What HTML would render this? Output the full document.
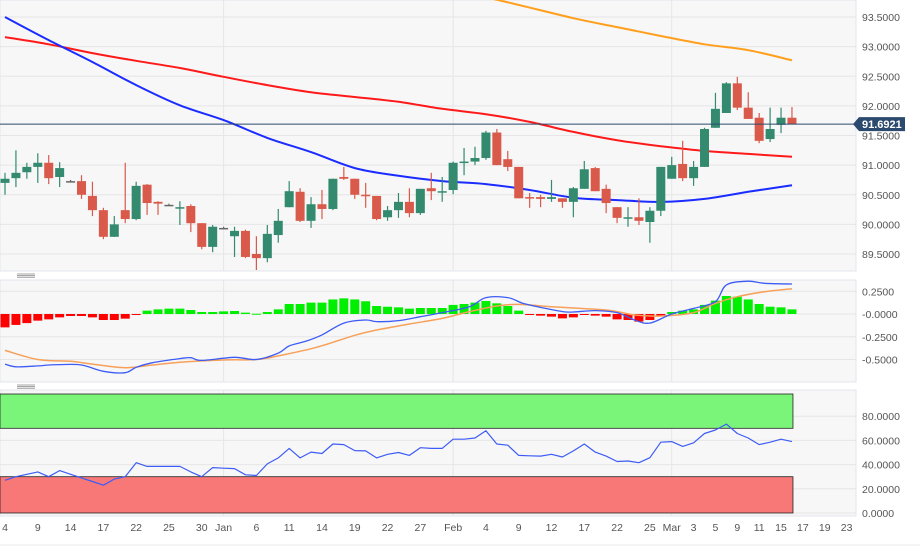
<!DOCTYPE html>
<html><head><meta charset="utf-8"><style>
html,body{margin:0;padding:0;background:#fff;}
svg{display:block;font-family:"Liberation Sans",sans-serif;}
</style></head><body>
<svg id="c" width="920" height="551" viewBox="0 0 920 551" xmlns="http://www.w3.org/2000/svg"></svg>
<script>
// ---- data ----
const opens  = [90.70,90.78,90.88,90.97,91.04,90.80,90.73,90.73,90.48,90.24,89.79,90.24,90.09,90.67,90.38,90.33,90.27,90.31,90.02,89.62,89.94,89.80,89.89,89.50,89.43,89.82,90.29,90.55,90.06,90.34,90.26,90.80,90.77,90.50,90.48,90.12,90.24,90.38,90.19,90.61,90.55,90.58,91.04,91.06,91.12,91.55,91.10,90.97,90.46,90.46,90.43,90.44,90.38,90.60,90.95,90.60,90.29,90.11,90.12,90.04,90.23,90.77,91.02,90.78,90.97,91.63,91.88,92.38,91.97,91.80,91.44,91.68,91.80];
const highs  = [90.87,91.25,91.04,91.20,91.17,91.05,90.75,90.83,90.72,90.28,90.14,91.04,90.72,90.68,90.39,90.35,90.39,90.34,90.02,89.99,89.96,89.96,89.91,89.80,89.99,90.26,90.73,90.61,90.46,90.58,90.77,90.97,90.77,90.70,90.48,90.31,90.53,90.61,90.60,90.87,90.80,91.06,91.29,91.31,91.58,91.61,91.24,90.97,90.53,90.50,90.75,90.44,90.63,91.07,90.97,90.67,90.29,90.29,90.44,90.29,90.97,91.14,91.41,91.07,91.63,92.22,92.40,92.49,92.23,91.88,91.97,91.97,91.98];
const lows   = [90.50,90.63,90.77,90.70,90.68,90.63,90.71,90.43,90.14,89.75,89.79,90.02,90.07,90.16,90.16,90.31,89.99,89.87,89.58,89.53,89.92,89.45,89.43,89.23,89.36,89.69,90.29,90.04,89.94,90.09,90.24,90.75,90.43,90.28,90.07,90.06,90.11,90.12,90.16,90.41,90.38,90.51,90.83,91.00,91.09,91.00,90.90,90.44,90.28,90.29,90.38,90.28,90.12,90.60,90.56,90.19,90.02,89.96,89.99,89.69,90.14,90.77,90.73,90.65,90.97,91.63,91.88,91.93,91.78,91.37,91.39,91.54,91.69];
const closes = [90.77,90.87,90.97,91.04,90.78,90.95,90.73,90.50,90.24,89.79,90.00,90.09,90.65,90.36,90.35,90.33,90.29,90.02,89.62,89.96,89.94,89.89,89.45,89.43,89.84,90.06,90.56,90.06,90.34,90.26,90.77,90.77,90.50,90.48,90.09,90.24,90.38,90.19,90.60,90.56,90.56,91.04,91.06,91.12,91.55,91.00,90.97,90.44,90.44,90.43,90.46,90.38,90.61,90.93,90.56,90.36,90.11,90.12,90.06,90.23,90.97,91.00,90.78,90.97,91.61,91.95,92.38,91.97,91.78,91.41,91.61,91.80,91.69];
const maIdx = [0,4,8,12,16,20,24,28,32,36,40,44,48,52,56,60,64,68,72];
const maBlue = [93.50,93.11,92.74,92.35,92.01,91.76,91.46,91.22,90.95,90.82,90.73,90.68,90.58,90.45,90.41,90.38,90.43,90.55,90.66];
const maRed  = [93.16,93.04,92.89,92.76,92.64,92.49,92.35,92.23,92.15,92.07,91.95,91.86,91.73,91.56,91.42,91.32,91.24,91.19,91.14];
const maOrIdx = [40,45,52,56,60,64,68,72];
const maOrange = [93.96,93.79,93.48,93.33,93.18,93.04,92.94,92.77];
const lastPrice = 91.6921;
const priceTicks = [93.5,93.0,92.5,92.0,91.5,91.0,90.5,90.0,89.5];
const hist = [-0.147,-0.12,-0.10,-0.073,-0.059,-0.037,-0.022,-0.022,-0.037,-0.066,-0.066,-0.051,-0.003,0.037,0.051,0.059,0.059,0.044,0.022,0.022,0.029,0.033,0.015,0.003,0.022,0.051,0.11,0.11,0.125,0.125,0.16,0.172,0.16,0.14,0.088,0.08,0.073,0.059,0.066,0.066,0.066,0.10,0.11,0.125,0.143,0.117,0.088,0.037,-0.005,-0.018,-0.029,-0.048,-0.037,-0.011,-0.018,-0.029,-0.059,-0.066,-0.084,-0.066,-0.022,0.022,0.037,0.051,0.10,0.147,0.198,0.19,0.16,0.11,0.08,0.073,0.051];
const macdIdx = [0,1,3,4,5,7,9,11,12,13.5,16,17,18,21,23,25,26,27.5,29,31,33,34,36,38,40,42.5,44,46,47.4,49,51,52,54,56,57.6,59,61,63,65,66,68,69.5,72];
const macdVals = [-0.55,-0.58,-0.57,-0.56,-0.556,-0.56,-0.63,-0.645,-0.586,-0.535,-0.49,-0.48,-0.51,-0.476,-0.50,-0.43,-0.35,-0.30,-0.23,-0.10,-0.066,-0.084,-0.073,-0.03,0.015,0.08,0.18,0.18,0.117,0.073,0.026,0.022,0.037,0.015,-0.066,-0.10,0,0.062,0.135,0.32,0.36,0.337,0.33];
const sigIdx = [0,3,6,8,11,13.5,16,20,23,25,28.5,32,34,37,40,42.5,45,47,50,53,55.5,57.6,60,63,65,67,69.5,72];
const sigVals = [-0.40,-0.50,-0.52,-0.55,-0.59,-0.56,-0.53,-0.505,-0.50,-0.46,-0.366,-0.234,-0.176,-0.11,-0.048,0.026,0.088,0.106,0.08,0.059,0.037,-0.011,-0.022,0.015,0.117,0.19,0.245,0.278];
const macdTicks = [0.25,0,-0.25,-0.5];
const macdTickLabels = ["0.2500","-0.0000","-0.2500","-0.5000"];
const rsi = [27,30,32,34,30,35,32,29,26,23,28,30,41.6,38.5,38.5,38.5,38.5,34,30,37.5,37,36.7,31.6,31,40.6,45.5,53.4,45.5,50.3,49.2,57,56.5,51.6,51.3,45.5,48.5,50,47.6,54,53.4,53.4,61,61,62,68,57,56,47.6,47.3,47,48.5,46.3,51.3,57,50.3,47,42.6,43,41.6,45.7,58.5,59,55,58,65.7,68.6,73.5,65.7,62,56.5,58.5,61,59];
const rsiTicks = [80,60,40,20,0];
const rsiTickLabels = ["80.0000","60.0000","40.0000","20.0000","0.0000"];
const xLabels = ["4","9","14","17","22","25","30","Jan","6","11","14","19","22","27","Feb","4","9","12","17","22","25","Mar","3","5","9","11","15","17","19","23"];
const xLabelIdx = [0,3,6,9,12,15,18,20,23,26,29,32,35,38,41,44,47,50,53,56,59,61,63,65,67,69,71,73,75,77];
const monthIdx = [20,41,61];

// ---- scales ----
const PR = 856;
const xI = i => 5 + i*10.93;
const yP = p => 17 + (93.5-p)*59.25;
const yM = v => 314 - v*91;
const yR = v => 513 - v*1.21;
const svg = document.getElementById('c');
const NS='http://www.w3.org/2000/svg';
function mk(tag, attrs, parent){const e=document.createElementNS(NS,tag);for(const k in attrs)e.setAttribute(k,attrs[k]);(parent||svg).appendChild(e);return e;}
function txt(s,x,y,attrs){const e=mk('text',Object.assign({x:x,y:y,'font-size':'10.5',fill:'#555'},attrs||{}));e.textContent=s;return e;}

const panels=[[0,271,'price-panel'],[280,382,'macd-panel'],[390,516,'rsi-panel']];
panels.forEach(p=>{const r=mk('rect',{x:0,y:p[0],width:PR,height:p[1]-p[0],fill:'#f7f7f7',stroke:'#e1e4ee','stroke-width':1});
});
[[275],[386]].forEach((s,k)=>{const g=mk('g',{});
for(let j=0;j<3;j++)mk('line',{x1:17,x2:35,y1:s[0]-1+j*1.6,y2:s[0]-1+j*1.6,stroke:'#888','stroke-width':0.8},g);});

monthIdx.forEach(i=>{[[0,271],[280,382],[390,516]].forEach(r=>{mk('line',{x1:xI(i),x2:xI(i),y1:r[0],y2:r[1],stroke:'#e6e6e6'});});});
priceTicks.forEach(t=>{mk('line',{x1:0,x2:PR,y1:yP(t),y2:yP(t),stroke:'#e6e6e6'});
const e=txt(t.toFixed(4),862,yP(t)+4);});
macdTicks.forEach((t,k)=>{mk('line',{x1:0,x2:PR,y1:yM(t),y2:yM(t),stroke:'#e6e6e6'});
const e=txt(macdTickLabels[k],862,yM(t)+4);});
rsiTicks.forEach((t,k)=>{mk('line',{x1:0,x2:PR,y1:yR(t),y2:yR(t),stroke:'#e6e6e6'});
const e=txt(rsiTickLabels[k],862,yR(t)+4);});

const defs=mk('defs',{});const cp=mk('clipPath',{id:'pc'},defs);mk('rect',{x:0,y:0,width:PR,height:271},cp);
const gP=mk('g',{'clip-path':'url(#pc)'});
function line(idx,vals,ys,color,w,name,parent,smooth){
  const pts=idx.map((i,k)=>[xI(i),ys(vals[k])]);
  let d='M'+pts[0][0].toFixed(1)+','+pts[0][1].toFixed(1);
  for(let k=1;k<pts.length;k++){
    if(smooth){const p0=pts[Math.max(0,k-2)],p1=pts[k-1],p2=pts[k],p3=pts[Math.min(pts.length-1,k+1)];
      const c1x=p1[0]+(p2[0]-p0[0])/6,c1y=p1[1]+(p2[1]-p0[1])/6,c2x=p2[0]-(p3[0]-p1[0])/6,c2y=p2[1]-(p3[1]-p1[1])/6;
      d+=`C${c1x.toFixed(1)},${c1y.toFixed(1)} ${c2x.toFixed(1)},${c2y.toFixed(1)} ${p2[0].toFixed(1)},${p2[1].toFixed(1)}`;}
    else d+='L'+pts[k][0].toFixed(1)+','+pts[k][1].toFixed(1);}
  const e=mk('path',{d:d,fill:'none',stroke:color,'stroke-width':w,'stroke-linejoin':'round'},parent);return e;}
line(maOrIdx,maOrange,yP,'#ff9f1c',2,'ma-orange-line',gP,true);
line(maIdx,maRed,yP,'#ff1a1a',2,'ma-red-line',gP,true);
line(maIdx,maBlue,yP,'#1a2cff',2,'ma-blue-line',gP,true);

opens.forEach((o,i)=>{const c=closes[i];const up=c>=o;const col=Math.abs(c-o)<0.005?'#666':(up?'#338a6f':'#d9594a');
const g=mk('g',{},gP);
const x=xI(i);mk('line',{x1:x,x2:x,y1:yP(highs[i]),y2:yP(lows[i]),stroke:col,'stroke-width':1.2},g);
const top=yP(Math.max(o,c)),bot=yP(Math.min(o,c));mk('rect',{x:x-4.5,y:top,width:9,height:Math.max(1.5,bot-top),fill:col},g);});

const ly=yP(lastPrice);
const pl=mk('line',{x1:0,x2:PR,y1:ly,y2:ly,stroke:'#2c4a6e','stroke-width':1});
const tag=mk('path',{d:`M853,${ly} L859,${ly-7} L905,${ly-7} L905,${ly+7} L859,${ly+7} Z`,fill:'#2c4a6e'});
const tt=txt(lastPrice.toFixed(4),862,ly+4,{fill:'#fff','font-weight':'bold','font-size':'11'});

hist.forEach((v,i)=>{const y0=yM(0),y1=yM(v);const r=mk('rect',{x:xI(i)-4.5,y:Math.min(y0,y1),width:9,height:Math.max(1,Math.abs(y1-y0)),fill:v>=0?'#00ee00':'#ff0000'});
});
line(sigIdx,sigVals,yM,'#f7a05a',1.5,'macd-signal-line',null,true);
line(macdIdx,macdVals,yM,'#3d5cf5',1.3,'macd-line',null,true);

const gz=mk('rect',{x:0,y:yR(100)+2,width:xI(72)+1,height:yR(70)-yR(100)-2,fill:'#7af57a',stroke:'#222','stroke-width':0.8});
const rz=mk('rect',{x:0,y:yR(30),width:xI(72)+1,height:yR(0)-yR(30),fill:'#f87878',stroke:'#222','stroke-width':0.8});
line(rsi.map((v,i)=>i),rsi,yR,'#3d5cf5',1.2,'rsi-line');

xLabels.forEach((s,k)=>{const e=txt(s,xI(xLabelIdx[k]),531,{'text-anchor':'middle'});});
mk('line',{x1:0,x2:920,y1:545,y2:545,stroke:'#e8e8e8'});
</script>
</body></html>
